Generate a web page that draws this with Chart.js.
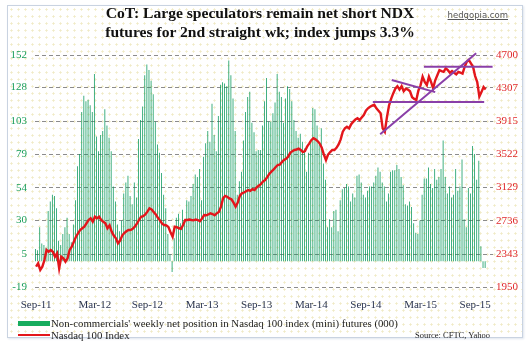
<!DOCTYPE html>
<html>
<head>
<meta charset="utf-8">
<script src="https://cdn.jsdelivr.net/npm/chart.js@4.4.0/dist/chart.umd.min.js"></script>
<style>
  body { margin: 0; background: #fff; }
  #wrap { position: relative; width: 530px; height: 342px; overflow: hidden; font-family: 'Liberation Serif', 'Times New Roman', serif; }
  #frame { position: absolute; left: 7px; top: 5px; width: 514px; height: 331px; border: 1px solid #c9d3e1;
    box-shadow: 1px 1px 2px #dfe5ee; background-color: #fff;
    background-image: radial-gradient(circle, #f0eac6 0.9px, transparent 1.3px); background-size: 7px 7px; }
  #chart { position: absolute; left: 0; top: 0; }
  .title { position: absolute; left: 10px; width: 500px; top: 3px; text-align: center; font-weight: bold;
    font-size: 15.6px; line-height: 19px; color: #111; white-space: nowrap; }
  .site { position: absolute; right: 22px; top: 10px; font-family: 'DejaVu Sans', sans-serif; font-size: 8.5px;
    color: #555; text-decoration: underline; }
  .swatch { position: absolute; left: 18px; width: 32px; }
  .leg { position: absolute; left: 51px; font-size: 10.8px; color: #222; white-space: nowrap; line-height: 12px; }
  .source { position: absolute; right: 40px; top: 330px; font-size: 8.5px; color: #222; }
</style>
</head>
<body>
<div id="wrap">
  <div id="frame"></div>
  <canvas id="chart" width="530" height="342"></canvas>
  <div class="title">CoT: Large speculators remain net short NDX<br>futures for 2nd straight wk; index jumps 3.3%</div>
  <div class="site">hedgopia.com</div>
  <div class="swatch" style="top:321px;height:5px;background:#17ad5f;"></div>
  <div class="leg" style="top:317px;">Non-commercials' weekly net position in Nasdaq 100 index (mini) futures (000)</div>
  <div class="swatch" style="top:334px;height:2px;background:#e3161b;"></div>
  <div class="leg" style="top:329px;">Nasdaq 100 Index</div>
  <div class="source">Source: CFTC, Yahoo</div>
</div>
<script>
// Weekly net position (000 contracts), Sep-11 .. Sep-15
const netPosition = [
    9, 8, 25, 13, 12, 10, 37, 44, 49, 48,
    39, 15, 12, 20, 25, 32, 20, 14, 27, 45,
    70, 79, 110, 122, 118, 119, 115, 110, 138, 92,
    81, 93, 96, 112, 100, 91, 81, 55, 44, 27,
    22, 30, 50, 58, 63, 48, 42, 58, 47, 90,
    104, 114, 137, 145, 141, 133, 123, 103, 86, 80,
    65, 49, 39, 20, 5, -8, 17, 32, 35, 28,
    38, 30, 45, 44, 48, 57, 64, 62, 68, 45,
    77, 87, 96, 88, 116, 93, 81, 107, 130, 132,
    131, 129, 148, 137, 120, 96, 49, 59, 66, 89,
    110, 121, 125, 102, 95, 81, 82, 82, 100, 118,
    135, 103, 103, 109, 117, 138, 125, 121, 102, 120,
    129, 127, 118, 104, 96, 91, 94, 88, 83, 66,
    80, 88, 113, 112, 100, 86, 98, 72, 60, 25,
    31, 25, 37, 38, 22, 45, 53, 54, 57, 55,
    44, 50, 47, 63, 64, 58, 49, 47, 52, 55,
    55, 58, 63, 69, 66, 58, 55, 44, 50, 66,
    67, 67, 71, 68, 62, 56, 42, 41, 44, 40,
    28, 21, 20, 30, 49, 61, 61, 69, 57, 54,
    68, 60, 62, 68, 89, 62, 50, 55, 47, 49,
    68, 52, 55, 75, 31, 25, 54, 50, 85, 79,
    60, 74, 11, -5, -5
];

// Nasdaq 100 index, same weeks
const ndxIndex = [
    2191, 2231, 2152, 2191, 2270, 2389, 2368, 2389, 2368, 2309,
    2350, 2170, 2309, 2290, 2250, 2290, 2389, 2428, 2487, 2546,
    2586, 2626, 2646, 2665, 2705, 2744, 2764, 2724, 2783, 2764,
    2783, 2744, 2724, 2705, 2646, 2680, 2606, 2560, 2527, 2468,
    2500, 2560, 2590, 2610, 2626, 2626, 2640, 2665, 2700, 2744,
    2783, 2790, 2810, 2843, 2883, 2870, 2840, 2810, 2770, 2740,
    2700, 2685, 2680, 2660, 2600, 2546, 2665, 2660, 2646, 2640,
    2685, 2744, 2744, 2750, 2744, 2740, 2750, 2744, 2730, 2760,
    2803, 2800, 2810, 2823, 2815, 2800, 2823, 2840, 2900, 3000,
    3030, 3020, 3000, 2990, 2950, 2902, 2950, 3030, 3061, 3070,
    3085, 3100, 3090, 3110, 3100, 3130, 3150, 3170, 3200, 3218,
    3250, 3290, 3317, 3340, 3370, 3396, 3400, 3430, 3455, 3470,
    3495, 3540, 3560, 3574, 3580, 3590, 3574, 3550, 3560, 3613,
    3650, 3690, 3713, 3700, 3680, 3650, 3600, 3520, 3455, 3520,
    3550, 3574, 3574, 3600, 3640, 3700, 3791, 3830, 3850, 3830,
    3880, 3910, 3935, 3950, 3930, 3960, 3989, 4040, 4068, 4087,
    4100, 4110, 4068, 4040, 4009, 3830, 3790, 3960, 4100, 4180,
    4245, 4300, 4330, 4290, 4330, 4270, 4300, 4290, 4270, 4200,
    4180, 4167, 4280, 4340, 4443, 4380, 4344, 4443, 4380, 4305,
    4400, 4460, 4522, 4510, 4500, 4542, 4520, 4490, 4510, 4490,
    4470, 4500, 4490, 4480, 4560, 4620, 4641, 4600, 4560, 4450,
    4380, 4206, 4260, 4320, 4290
];

// Hand-drawn trend lines (week index, index level)
const trendSupport = [{ x: 160.3, y: 4143 }, { x: 213.3, y: 4143 }];
const trendResistance = [{ x: 184.6, y: 4561 }, { x: 217.3, y: 4561 }];
const trendRising = [{ x: 163.8, y: 3760 }, { x: 209.5, y: 4720 }];
const trendFalling = [{ x: 169.3, y: 4403 }, { x: 190, y: 4260 }];

const xTickText = ['Sep-11', 'Mar-12', 'Sep-12', 'Mar-13', 'Sep-13', 'Mar-14', 'Sep-14', 'Mar-15', 'Sep-15'];
const xTickWeek = [0, 28, 53, 79, 105, 131, 157, 183, 209];
const leftTicks = [-19, 5, 30, 54, 79, 103, 128, 152];
const rightTicks = [1950, 2343, 2736, 3129, 3522, 3915, 4307, 4700];
const blankWeeks = 3; // axis runs a few weeks past the last report

// Build category labels: blank except where a tick label sits
const labels = [];
for (let i = 0; i < netPosition.length + blankWeeks; i++) labels.push('');
xTickWeek.forEach((w, k) => { labels[w] = xTickText[k]; });

const tickFont = { family: "'Liberation Serif', serif", size: 11 };

function trendSet(data) {
    return {
        type: 'line',
        data,
        xAxisID: 'x2',
        yAxisID: 'y2',
        borderColor: '#8a3fa8',
        borderWidth: 2,
        pointRadius: 0,
        clip: false,
        order: 1
    };
}

new Chart(document.getElementById('chart'), {
    data: {
        labels,
        datasets: [
            {
                type: 'bar',
                data: netPosition,
                backgroundColor: '#05975a',
                borderWidth: 0,
                barPercentage: 0.72,
                categoryPercentage: 1,
                xAxisID: 'x',
                yAxisID: 'y',
                order: 3
            },
            {
                type: 'line',
                data: ndxIndex,
                borderColor: '#e3161b',
                borderWidth: 2.4,
                pointRadius: 0,
                tension: 0,
                xAxisID: 'x',
                yAxisID: 'y2',
                order: 2
            },
            trendSet(trendSupport),
            trendSet(trendResistance),
            trendSet(trendRising),
            trendSet(trendFalling)
        ]
    },
    options: {
        responsive: false,
        animation: false,
        devicePixelRatio: 1,
        layout: { padding: { top: 55, left: 0, right: 0, bottom: 0 } },
        plugins: { legend: { display: false }, tooltip: { enabled: false } },
        scales: {
            x: {
                type: 'category',
                offset: true,
                grid: { display: false },
                border: { display: false },
                ticks: { autoSkip: false, maxRotation: 0, padding: 4, color: '#2b3550', font: tickFont },
                afterFit: s => { s.height = 55; }
            },
            x2: {
                type: 'linear',
                display: false,
                min: -0.5,
                max: labels.length - 0.5
            },
            y: {
                position: 'left',
                min: leftTicks[0],
                max: leftTicks[leftTicks.length - 1],
                afterBuildTicks: s => { s.ticks = leftTicks.map(v => ({ value: v })); },
                ticks: { callback: v => String(v), color: '#1a9e5c', padding: 8, font: tickFont },
                grid: { color: '#8c8c8c', drawTicks: false, lineWidth: 1 },
                border: { display: false, dash: [4, 3] },
                afterFit: s => { s.width = 35; }
            },
            y2: {
                position: 'right',
                min: rightTicks[0],
                max: rightTicks[rightTicks.length - 1],
                afterBuildTicks: s => { s.ticks = rightTicks.map(v => ({ value: v })); },
                ticks: { callback: v => String(v), color: '#e0282a', padding: 3, font: tickFont },
                grid: { display: false, drawTicks: false },
                border: { display: false },
                afterFit: s => { s.width = 37; }
            }
        }
    }
});
</script>
</body>
</html>
